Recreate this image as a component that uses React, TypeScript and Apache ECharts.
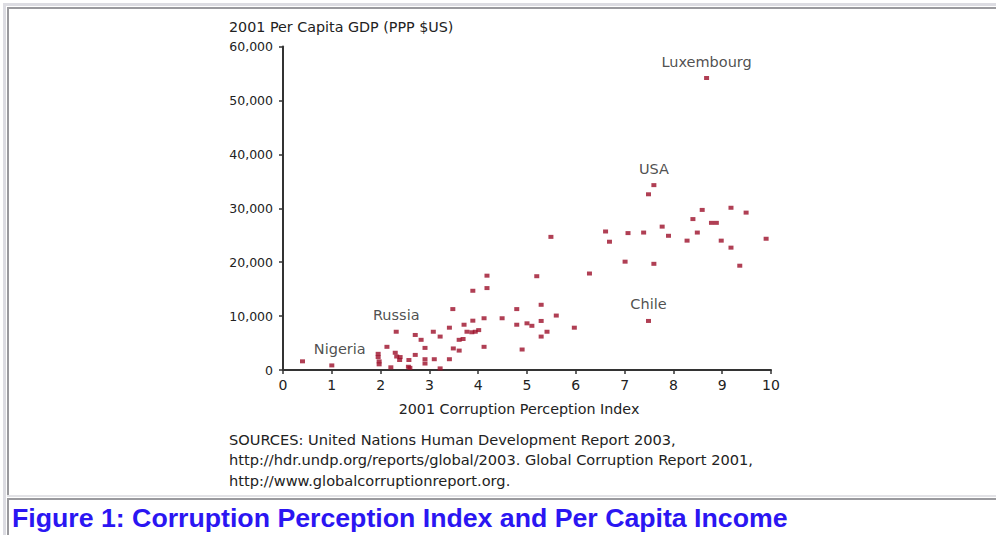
import React, { useEffect, useRef } from "react";
import * as echarts from "echarts";

// 2001 Corruption Perception Index (x) and 2001 per-capita GDP, PPP $US (y)
const cpi: number[] = [
  0.4, 1.0, 1.95, 1.95, 1.97, 1.97, 2.13, 2.21, 2.32, 2.3, 2.33, 2.39, 2.4, 2.57, 2.58, 2.6,
  2.71, 2.71, 2.83, 2.91, 2.91, 2.91, 3.08, 3.1, 3.22, 3.22, 3.41, 3.41, 3.48, 3.49,
  3.61, 3.61, 3.69, 3.71, 3.77, 3.87, 3.94, 4.01, 3.89, 3.89, 4.12, 4.12, 4.18, 4.18,
  4.49, 4.79, 4.79, 4.9, 5.0, 5.1, 5.2, 5.29, 5.29, 5.29, 5.41, 5.49, 5.6, 5.97,
  6.28, 6.61, 6.69, 7.01, 7.07, 7.39, 7.49, 7.49, 7.6, 7.6, 7.77, 7.9,
  8.28, 8.4, 8.49, 8.59, 8.68, 8.78, 8.88, 8.98, 9.18, 9.18, 9.36, 9.49, 9.9,
];
const gdp: number[] = [
  1610, 850, 3000, 2400, 1600, 1050, 4300, 500, 7100, 3200, 2500, 1850, 2400, 600, 1850, 400,
  6500, 2800, 5600, 4100, 2000, 1200, 7100, 2000, 6200, 300, 7850, 2000, 11300, 4000,
  5600, 3600, 5750, 8400, 7100, 7000, 7100, 7400, 14700, 9150, 9600, 4300, 17500, 15200,
  9600, 11300, 8400, 3800, 8660, 8200, 17400, 12100, 9100, 6200, 7100, 24700, 10100, 7850,
  17900, 25700, 23800, 20100, 25400, 25500, 32600, 9100, 34300, 19700, 26600, 24900,
  24000, 28000, 25500, 29700, 54170, 27300, 27300, 24000, 30100, 22700, 19350, 29200, 24350,
];
const countryLabels: string[] = cpi.map((_, i) =>
  i === 1 ? "Nigeria" : i === 8 ? "Russia" : i === 65 ? "Chile" : i === 66 ? "USA" : i === 74 ? "Luxembourg" : ""
);
const xTicks: number[] = [0, 1, 2, 3, 4, 5, 6, 7, 8, 9, 10];
const yTicks: number[] = [0, 10000, 20000, 30000, 40000, 50000, 60000];
const yTitle = "2001 Per Capita GDP (PPP $US)";
const xTitle = "2001 Corruption Perception Index";
const sources: string[] = [
  "SOURCES: United Nations Human Development Report 2003,",
  "http://hdr.undp.org/reports/global/2003. Global Corruption Report 2001,",
  "http://www.globalcorruptionreport.org.",
];
const caption = "Figure 1: Corruption Perception Index and Per Capita Income";

const FONT = "'DejaVu Sans', sans-serif";
const TXT = "#222";

export default function App() {
  const ref = useRef<HTMLDivElement>(null);
  useEffect(() => {
    if (!ref.current) return;
    const chart = echarts.init(ref.current, undefined, { renderer: "svg" });
    const data = cpi.map((x, i) => {
      const name = countryLabels[i];
      const item: any = { value: [x, gdp[i]], name };
      if (name) {
        item.label = {
          show: true,
          position: "top",
          distance: 7,
          offset: name === "Nigeria" ? [8, 0] : [0, 0],
          formatter: "{b}",
          fontFamily: FONT,
          fontSize: 14.5,
          color: TXT,
        };
      }
      return item;
    });
    const light = "#dcdce2";
    const dark = "#9a9a9e";
    chart.setOption({
      animation: false,
      backgroundColor: "#ffffff",
      grid: { left: 283, right: 225, top: 46.6, bottom: 165, containLabel: false },
      xAxis: {
        type: "value",
        min: 0,
        max: 10,
        interval: 1,
        splitLine: { show: false },
        axisLine: { show: true, onZero: false, lineStyle: { color: "#333", width: 2 } },
        axisTick: { show: true, length: 4, lineStyle: { color: "#333", width: 1.5 } },
        axisLabel: {
          margin: 8,
          fontFamily: FONT,
          fontSize: 14,
          color: TXT,
          formatter: (v: number) => (xTicks.includes(v) ? String(v) : ""),
        },
      },
      yAxis: {
        type: "value",
        min: 0,
        max: 60000,
        interval: 10000,
        splitLine: { show: false },
        axisLine: { show: true, onZero: false, lineStyle: { color: "#333", width: 2 } },
        axisTick: { show: true, length: 4, lineStyle: { color: "#333", width: 1.5 } },
        axisLabel: {
          margin: 10,
          fontFamily: FONT,
          fontSize: 12.5,
          color: TXT,
          formatter: (v: number) => (yTicks.includes(v) ? v.toLocaleString("en-US") : ""),
        },
      },
      series: [
        {
          type: "scatter",
          symbol: "rect",
          symbolSize: [5, 4],
          itemStyle: { color: "#9c0f29" },
          data,
          z: 3,
        },
      ],
      graphic: [
        { type: "rect", shape: { x: 3, y: 3, width: 993, height: 3 }, style: { fill: light }, silent: true },
        { type: "rect", shape: { x: 3, y: 3, width: 3, height: 532 }, style: { fill: light }, silent: true },
        { type: "rect", shape: { x: 7, y: 7, width: 989, height: 2 }, style: { fill: dark }, silent: true },
        { type: "rect", shape: { x: 7, y: 7, width: 2, height: 489 }, style: { fill: dark }, silent: true },
        { type: "rect", shape: { x: 7, y: 495, width: 989, height: 2 }, style: { fill: "#e2e2e6" }, silent: true },
        { type: "rect", shape: { x: 7, y: 498, width: 989, height: 2 }, style: { fill: dark }, silent: true },
        { type: "rect", shape: { x: 7, y: 498, width: 2, height: 37 }, style: { fill: dark }, silent: true },
        {
          type: "text",
          x: 229,
          y: 27,
          style: { text: yTitle, fontFamily: FONT, fontSize: 14.3, fill: TXT, verticalAlign: "middle", align: "left" },
        },
        {
          type: "text",
          x: 519,
          y: 409,
          style: { text: xTitle, fontFamily: FONT, fontSize: 14.3, fill: TXT, verticalAlign: "middle", align: "center" },
        },
        ...sources.map((s, i) => ({
          type: "text",
          x: 229,
          y: 439 + i * 20.5,
          style: { text: s, fontFamily: FONT, fontSize: 14.6, fill: TXT, verticalAlign: "middle", align: "left" },
        })),
        {
          type: "text",
          x: 12,
          y: 518,
          style: {
            text: caption,
            fontFamily: "'Liberation Sans', Arial, sans-serif",
            fontWeight: "bold",
            fontSize: 26.7,
            fill: "#2b16f2",
            verticalAlign: "middle",
            align: "left",
          },
        },
      ],
    });
    return () => chart.dispose();
  }, []);
  return (
    <div style={{ position: "absolute", left: 0, top: 0, width: 996, height: 535, background: "#fff" }}>
      <div ref={ref} style={{ width: 996, height: 535 }} />
    </div>
  );
}
